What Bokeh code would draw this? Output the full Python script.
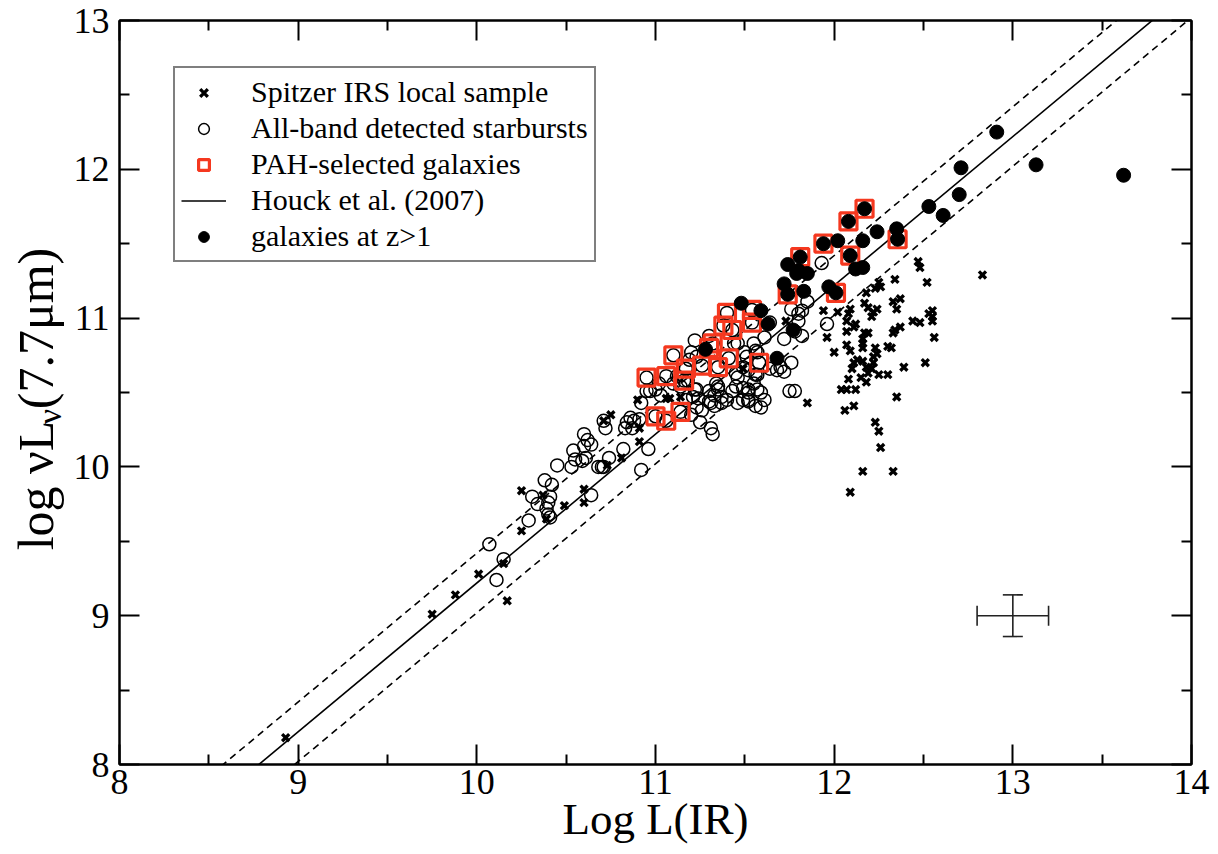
from bokeh.plotting import figure
from bokeh.layouts import row
from bokeh.models import (Range1d, LinearAxis, FixedTicker, Label, Legend, LegendItem,
                          Whisker, TeeHead, ColumnDataSource)
from bokeh.embed import file_html
from bokeh.resources import INLINE

# ---------------- data ----------------
# Spitzer IRS local sample (crosses)
irs_x = [8.93, 9.75, 9.88, 10.01, 10.15, 10.17, 10.25, 10.25, 10.37, 10.39, 10.49, 10.60, 10.60,
         10.71, 10.73, 10.75, 10.81, 10.90, 10.91, 10.91, 11.06, 11.08, 11.14, 11.49, 11.73, 11.85,
         11.94, 11.96, 12.00,
         12.47, 12.48, 12.83, 12.52, 12.34, 12.25, 12.26, 12.23, 12.18, 12.37, 12.33, 12.35, 12.17,
         12.19, 12.24, 12.22, 12.21, 12.02, 12.09, 12.08, 12.55, 12.55, 12.55, 12.53, 12.44, 12.48,
         12.07, 12.12, 12.11, 12.37, 12.34, 12.33, 12.07, 12.17, 12.19, 12.16, 12.56, 12.07, 12.09,
         12.16, 12.16, 12.23, 12.24, 12.22, 12.30, 12.32, 12.13, 12.11, 12.10, 12.16, 12.18, 12.21,
         12.19, 12.22, 12.25, 12.30, 12.39, 12.51, 12.08, 12.18, 12.15, 12.04, 12.07, 12.12, 12.35,
         12.06, 12.11, 12.23, 12.25, 12.26, 12.16, 12.33, 12.09]
irs_y = [8.18, 9.01, 9.14, 9.28, 9.35, 9.10, 9.84, 9.57, 9.81, 9.65, 9.74, 9.85, 9.76,
         10.31, 10.01, 10.35, 10.06, 10.45, 10.26, 10.17, 10.46, 10.46, 10.47, 10.66, 10.98, 10.43,
         11.05, 10.87, 10.77,
         11.38, 11.34, 11.29, 11.24, 11.26, 11.24, 11.21, 11.20, 11.17, 11.13, 11.11, 11.06, 11.10,
         11.07, 11.06, 11.04, 11.01, 11.04, 11.06, 11.03, 11.05, 11.01, 10.98, 11.03, 10.98, 10.97,
         10.98, 10.96, 10.94, 10.94, 10.92, 10.90, 10.91, 10.90, 10.90, 10.86, 10.87, 10.82, 10.78,
         10.83, 10.80, 10.80, 10.76, 10.74, 10.81, 10.80, 10.72, 10.70, 10.66, 10.71, 10.67, 10.66,
         10.63, 10.70, 10.62, 10.62, 10.67, 10.70, 10.59, 10.57, 10.60, 10.52, 10.52, 10.52, 10.47,
         10.38, 10.41, 10.30, 10.24, 10.13, 9.97, 9.97, 9.83]

# All-band detected starbursts (open circles)
sb_x = [10.07, 10.11, 10.15, 10.29, 10.31, 10.34, 10.39, 10.40, 10.40, 10.41, 10.41, 10.38, 10.42,
        10.45, 10.53, 10.54, 10.55, 10.59, 10.61, 10.60, 10.62, 10.64, 10.60, 10.64, 10.68, 10.70,
        10.71, 10.71, 10.72, 10.74, 10.82, 10.83, 10.84, 10.86, 10.87, 10.88, 10.91, 10.92, 10.92,
        10.95, 10.96,
        11.00, 10.97, 11.03, 11.02, 11.10, 11.12, 11.14, 11.18, 11.22, 11.17, 11.23, 11.26, 11.20,
        11.25, 11.23, 11.21, 11.24, 11.30, 11.31, 11.33, 11.30, 11.31, 11.32, 11.34, 11.35, 11.33,
        11.35, 11.37, 11.37, 11.40, 11.43, 11.45, 11.45, 11.46, 11.46, 11.49, 11.52, 11.49, 11.52,
        11.52, 11.52, 11.56, 11.57, 11.55, 11.57, 11.59, 11.59, 11.61, 11.64, 11.68, 11.70, 11.72,
        11.76, 11.78, 11.75,
        11.20, 11.19, 11.23, 11.22, 11.30, 11.44, 11.46, 11.50, 11.51, 11.49, 11.52, 11.56, 11.55,
        11.57, 11.56, 11.61, 11.64, 11.72, 11.76, 11.82, 11.80, 11.80, 11.82, 11.78, 11.85, 11.96,
        11.93,
        10.95, 11.00, 11.06, 11.06, 11.10, 11.14, 11.16, 11.17, 11.26, 11.32, 11.35, 11.38, 11.40,
        11.41, 11.43, 11.54, 11.54, 11.58]
sb_y = [9.48, 9.24, 9.38, 9.64, 9.80, 9.75, 9.72, 9.76, 9.68, 9.80, 9.66, 9.91, 9.88,
        10.01, 10.00, 10.11, 10.05, 10.04, 10.06, 10.22, 10.18, 10.15, 10.14, 9.81, 10.00, 10.00,
        10.00, 10.31, 10.26, 10.06, 10.12, 10.26, 10.30, 10.33, 10.26, 10.31, 10.32, 10.43, 9.98,
        10.51, 10.12,
        10.52, 10.51, 10.48, 10.56, 10.56, 10.61, 10.54, 10.58, 10.52, 10.45, 10.40, 10.38, 10.35,
        10.30, 10.52, 10.47, 10.46, 10.51, 10.43, 10.41, 10.44, 10.26, 10.22, 10.56, 10.52, 10.48,
        10.54, 10.47, 10.43, 10.45, 10.51, 10.54, 10.63, 10.60, 10.43, 10.45, 10.45, 10.53, 10.52,
        10.50, 10.44, 10.41, 10.62, 10.56, 10.52, 10.50, 10.40, 10.45, 10.66, 10.65, 10.67, 10.64,
        10.70, 10.51, 10.51,
        10.77, 10.72, 10.74, 10.85, 10.88, 10.83, 10.83, 10.77, 10.74, 10.67, 10.65, 10.62, 10.83,
        10.77, 10.78, 10.87, 10.97, 10.86, 11.06, 11.05, 10.98, 11.03, 10.88, 10.91, 11.11, 10.96,
        11.37,
        10.60, 10.34, 10.61, 10.31, 10.75, 10.37, 10.58, 10.66, 10.68, 10.83, 10.67, 10.95, 11.035,
        10.73, 10.92, 11.055, 10.97, 10.70]

# PAH-selected galaxies (red squares)
pah_x = [10.95, 11.00, 11.06, 11.06, 11.10, 11.14, 11.16, 11.17, 11.26, 11.30, 11.32, 11.35, 11.38,
         11.40, 11.41, 11.43, 11.54, 11.54, 11.58, 11.74, 11.81, 11.94, 12.01, 12.08, 12.09, 12.17,
         12.355]
pah_y = [10.60, 10.34, 10.61, 10.31, 10.75, 10.37, 10.58, 10.66, 10.68, 10.80, 10.83, 10.67, 10.95,
         11.035, 10.73, 10.92, 11.055, 10.97, 10.70, 11.16, 11.41, 11.50, 11.17, 11.65, 11.42, 11.735,
         11.53]

# galaxies at z>1 (filled circles)
hz_x = [11.28, 11.48, 11.59, 11.63, 11.68, 11.72, 11.74, 11.74, 11.77, 11.79, 11.80, 11.81, 11.83,
        11.85, 11.94, 11.97, 12.01, 12.02, 12.08, 12.09, 12.12, 12.16, 12.16, 12.17, 12.24, 12.35,
        12.355, 12.53, 12.61, 12.70, 12.71, 12.91, 13.13, 13.62]
hz_y = [10.79, 11.10, 11.05, 10.96, 10.73, 11.23, 11.36, 11.16, 10.92, 11.30, 11.32, 11.41, 11.18,
        11.30, 11.50, 11.21, 11.17, 11.52, 11.65, 11.42, 11.33, 11.34, 11.52, 11.735, 11.58, 11.60,
        11.53, 11.75, 11.69, 11.83, 12.01, 12.25, 12.03, 11.96]

# Houck et al. (2007) relation: log nuL(7.7) = slope * logL(IR) + offset, +/- scatter
houck_slope = 1.0
houck_offset = -0.78
houck_scatter = 0.2
line_x = [8.0, 14.0]

# typical error bar
err_x = [13.0]
err_y = [9.0]
err_dx = [0.2]
err_dy = [0.14]

x_major = [8, 9, 10, 11, 12, 13, 14]
x_minor = [8.5, 9.5, 10.5, 11.5, 12.5, 13.5]
y_major = [8, 9, 10, 11, 12, 13]
y_minor = [8.5, 9.5, 10.5, 11.5, 12.5]

# y-axis title pieces: text, font size, centre position in the title strip
# (px from the strip's left edge / px from the page bottom)
ytitle_text = ["log \u03bdL", "\u03bd", "(7.7\u03bcm)"]
ytitle_size = ["50px", "34px", "50px"]
ytitle_cx = [35, 49, 35]
ytitle_cy = [369, 438, 526]

FONT = "Liberation Serif"
RED = "#f5381f"
W, H = 1218, 854
TITLE_W = 70
B_TOP, B_BOT = 20, 90

# ---------------- main figure ----------------
p = figure(width=W - TITLE_W, height=H, x_range=Range1d(8, 14), y_range=Range1d(8, 13),
           output_backend="svg", toolbar_location=None, x_axis_location=None, y_axis_location=None,
           min_border_left=118 - TITLE_W, min_border_right=27, min_border_top=B_TOP,
           min_border_bottom=B_BOT)
p.xgrid.visible = False
p.ygrid.visible = False
p.outline_line_color = "black"
p.outline_line_width = 2
p.background_fill_color = "white"
p.border_fill_color = "white"


def make_axis(ticks, minor, show):
    ax = LinearAxis(ticker=FixedTicker(ticks=ticks, minor_ticks=minor))
    ax.axis_line_width = 2
    ax.axis_line_color = "black"
    ax.major_tick_in = 20
    ax.major_tick_out = 0
    ax.minor_tick_in = 10
    ax.minor_tick_out = 0
    ax.major_tick_line_width = 2
    ax.minor_tick_line_width = 2
    ax.major_tick_line_color = "black"
    ax.minor_tick_line_color = "black"
    ax.major_label_text_font = FONT
    if show:
        ax.major_label_text_font_size = "36px"
        ax.major_label_text_color = "black"
    else:
        ax.major_label_text_font_size = "1px"
        ax.major_label_text_color = None
        ax.major_label_standoff = 0
    return ax


xb = make_axis(x_major, x_minor, True)
xb.major_label_standoff = 5
xb.axis_label = "Log L(IR)"
xb.axis_label_standoff = -3
xb.axis_label_text_font = FONT
xb.axis_label_text_font_style = "normal"
xb.axis_label_text_font_size = "45px"
xb.axis_label_text_color = "black"
yl = make_axis(y_major, y_minor, True)
yl.major_label_standoff = 10
xt = make_axis(x_major, x_minor, False)
yr = make_axis(y_major, y_minor, False)
p.add_layout(xb, "below")
p.add_layout(yl, "left")
p.add_layout(xt, "above")
p.add_layout(yr, "right")

# relation lines
yc = [houck_slope * v + houck_offset for v in line_x]
yu = [houck_slope * v + houck_offset + houck_scatter for v in line_x]
yd = [houck_slope * v + houck_offset - houck_scatter for v in line_x]
r_line = p.line(line_x, yc, line_color="black", line_width=1.6)
p.line(line_x, yu, line_color="black", line_width=1.6, line_dash="7 5")
p.line(line_x, yd, line_color="black", line_width=1.6, line_dash="7 5")

r_irs = p.scatter(irs_x, irs_y, marker="x", size=10, line_color="black", line_width=3.3)
r_sb = p.scatter(sb_x, sb_y, marker="circle", size=13, fill_color=None,
                 line_color="black", line_width=1.5)
r_pah = p.scatter(pah_x, pah_y, marker="square", size=17, fill_color=None,
                  line_color=RED, line_width=3.2)
r_hz = p.scatter(hz_x, hz_y, marker="circle", size=14, fill_color="black", line_color="black")

# error bar
src = ColumnDataSource(dict(
    x=err_x, y=err_y,
    xl=[a - b for a, b in zip(err_x, err_dx)], xu=[a + b for a, b in zip(err_x, err_dx)],
    yl=[a - b for a, b in zip(err_y, err_dy)], yu=[a + b for a, b in zip(err_y, err_dy)]))
for dim, base, lo, hi in (("width", "y", "xl", "xu"), ("height", "x", "yl", "yu")):
    w = Whisker(source=src, base=base, lower=lo, upper=hi, dimension=dim,
                line_color="#222222", line_width=1.6,
                lower_head=TeeHead(size=20, line_color="#222222", line_width=1.6),
                upper_head=TeeHead(size=20, line_color="#222222", line_width=1.6))
    p.add_layout(w)

# legend
legend = Legend(items=[
    LegendItem(label="Spitzer IRS local sample", renderers=[r_irs]),
    LegendItem(label="All-band detected starbursts", renderers=[r_sb]),
    LegendItem(label="PAH-selected galaxies", renderers=[r_pah]),
    LegendItem(label="Houck et al. (2007)", renderers=[r_line]),
    LegendItem(label="galaxies at z>1", renderers=[r_hz]),
], location=(54, 502), margin=0, padding=6, spacing=0, glyph_width=45, glyph_height=27,
    label_height=36, label_standoff=25, label_text_font=FONT, label_text_font_size="30px",
    label_text_color="black", label_text_baseline="middle", border_line_color="black",
    border_line_width=2, background_fill_color="white", background_fill_alpha=1.0)
p.add_layout(legend, "center")

# ---------------- y-axis title strip (pixel-coordinate panel) ----------------
# its frame shares the main frame's vertical extent, so the y range is set to page pixels
t = figure(width=TITLE_W, height=H, x_range=Range1d(0, TITLE_W), y_range=Range1d(B_BOT, H - B_TOP),
           output_backend="svg", toolbar_location=None, x_axis_location=None,
           y_axis_location=None, min_border_left=0, min_border_right=0,
           min_border_top=B_TOP, min_border_bottom=B_BOT)
t.xgrid.visible = False
t.ygrid.visible = False
t.outline_line_color = None
t.border_fill_color = "white"
t.background_fill_color = "white"

for txt, fs, cx, cy in zip(ytitle_text, ytitle_size, ytitle_cx, ytitle_cy):
    t.add_layout(Label(x=cx, y=cy, text=txt, angle=90, angle_units="deg",
                       text_align="center", text_baseline="middle", text_font=FONT,
                       text_font_size=fs, text_color="black"))

layout = row(t, p, spacing=0)
open("out.html", "w").write(file_html(layout, INLINE))
